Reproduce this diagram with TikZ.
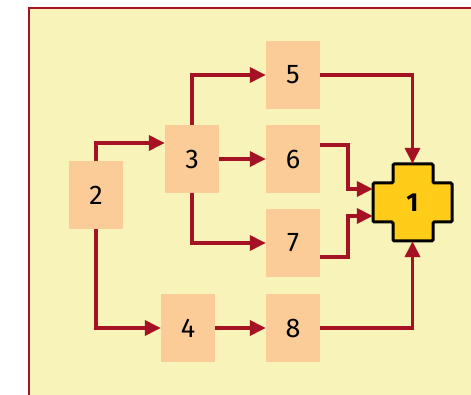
\documentclass[tikz,border=0pt]{standalone}
\usepackage{fontspec}
\setmainfont{Fira Sans}
\usetikzlibrary{arrows.meta}
\definecolor{bgy}{HTML}{F8F3B8}
\definecolor{boxc}{HTML}{FBCB98}
\definecolor{arrc}{HTML}{A51224}
\definecolor{crossc}{HTML}{FFCC19}
\tikzset{
  stepbox/.style={rectangle, fill=boxc, minimum width=54pt, minimum height=68pt, inner sep=0pt,
    font=\fontsize{27}{32}\selectfont},
  arr/.style={draw=arrc, line width=3.6pt, -{Triangle[length=16pt,width=15pt]}},
}
\begin{document}
\begin{tikzpicture}[x=1pt,y=-1pt]
\clip (0,0) rectangle (471,395);
\useasboundingbox (0,0) rectangle (471,395);
\draw[draw=arrc, line width=1.4pt, fill=bgy] (29,8) rectangle (490,410);
% nodes
\node[stepbox] (n2) at (96,195) {2};
\node[stepbox] (n3) at (192,159) {3};
\node[stepbox] (n4) at (188,328) {4};
\node[stepbox] (n5) at (293,75) {5};
\node[stepbox] (n6) at (293,159) {6};
\node[stepbox] (n7) at (293,243) {7};
\node[stepbox] (n8) at (293,328) {8};
% cross shape
\draw[fill=crossc, line width=3pt, rounded corners=1.2pt]
  (393,164) -- (433,164) -- (433,183) -- (452,183) -- (452,222) -- (433,222)
  -- (433,241) -- (393,241) -- (393,222) -- (373,222) -- (373,183) -- (393,183) -- cycle;
\node[rectangle, minimum width=79pt, minimum height=77pt, inner sep=0pt,
  font=\fontsize{26}{30}\selectfont\bfseries] (n1) at (412.5,202.5) {1};
% connectors
\draw[arr] (n2.north) |- (n3.west |- 0,143);
\draw[arr] (n2.south) |- (n4.west);
\draw[arr] (n3.north) |- (n5.west);
\draw[arr] (n3.east) -- (n6.west);
\draw[arr] (n3.south) |- (n7.west);
\draw[arr] (n4.east) -- (n8.west);
\draw[arr] (n5.east) -| (n1.north);
\draw[arr] (n8.east) -| (n1.south);
\draw[arr] (n6.east |- 0,145) -- (348,145) -- (348,189) -- (n1.west |- 0,189);
\draw[arr] (n7.east |- 0,257) -- (348,257) -- (348,216) -- (n1.west |- 0,216);
\end{tikzpicture}
\end{document}
